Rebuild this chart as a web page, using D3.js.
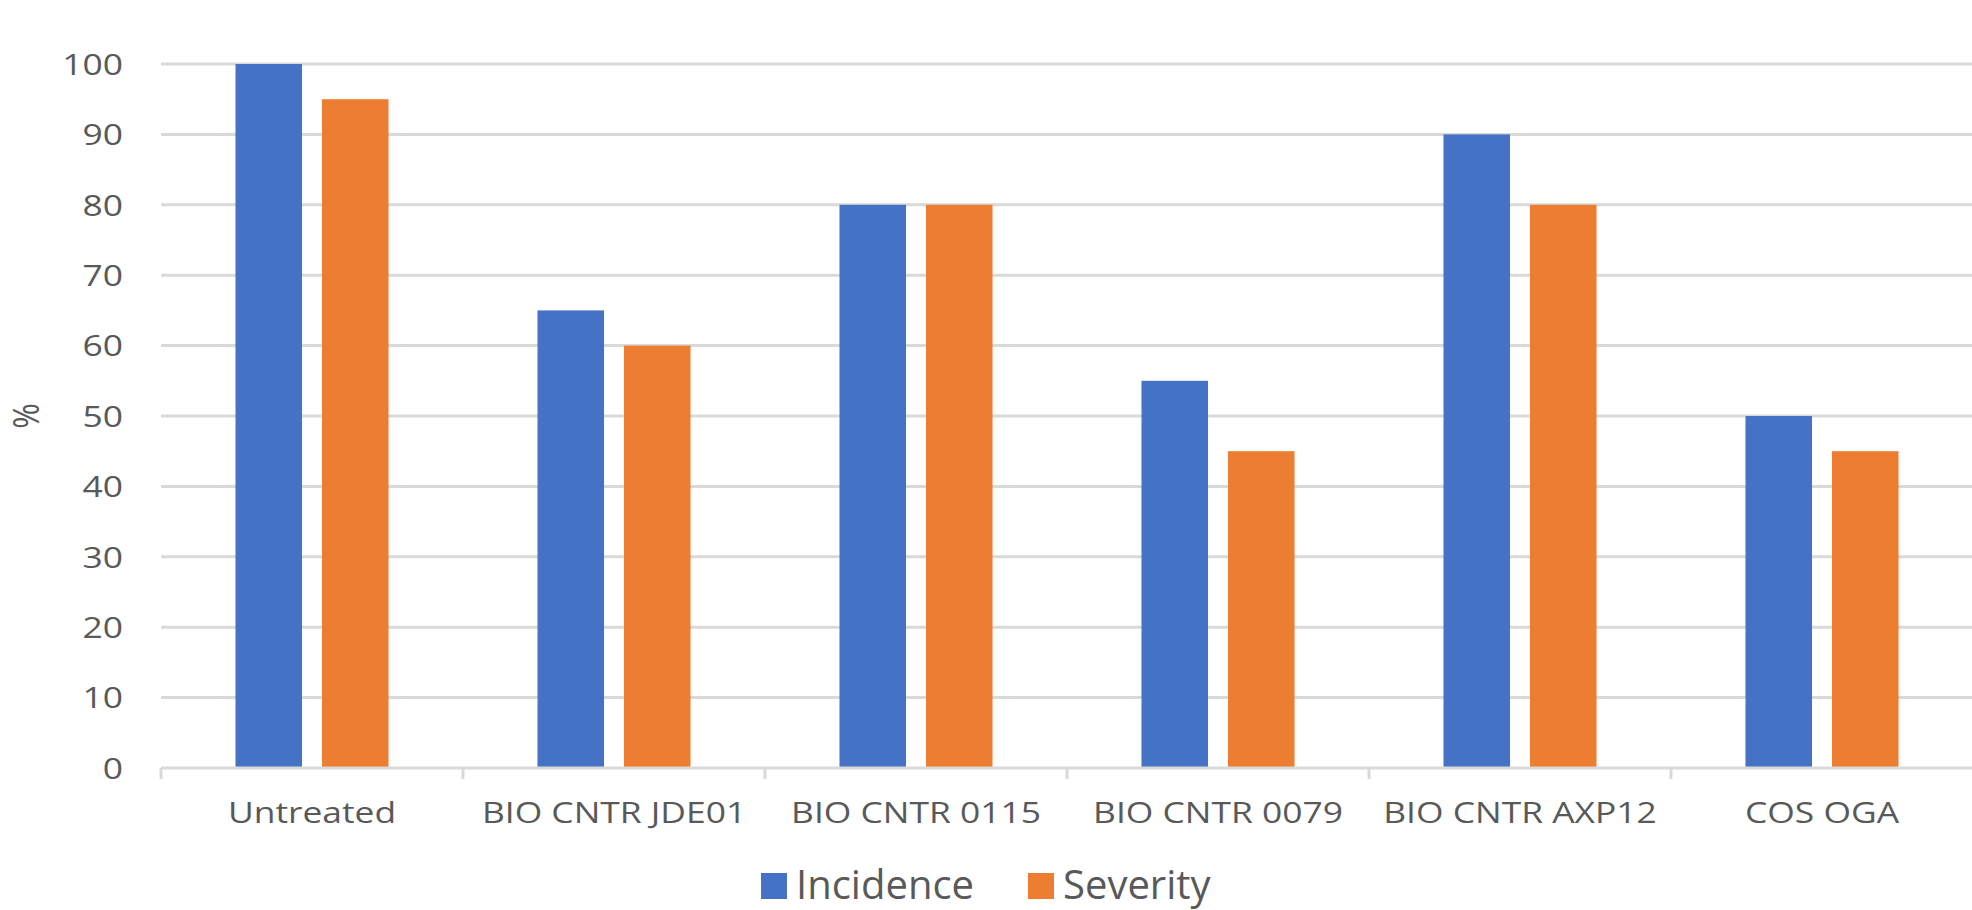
<!DOCTYPE html>
<html>
<head>
<meta charset="utf-8">
<script src="https://cdn.jsdelivr.net/npm/d3@7"></script>
<style>
  html, body { margin: 0; padding: 0; background: #ffffff; overflow: hidden; }
  svg { display: block; }
  text { font-family: "Open Sans", "Noto Sans", sans-serif; fill: #595959; }
</style>
</head>
<body>
<svg id="chart" width="1972" height="910"></svg>
<script>
// Treatments along the x axis
const categories = ["Untreated", "BIO CNTR JDE01", "BIO CNTR 0115", "BIO CNTR 0079", "BIO CNTR AXP12", "COS OGA"];
// Series names and their values (%)
const seriesNames = ["Incidence", "Severity"];
const incidence = [100, 65, 80, 55, 90, 50];
const severity = [95, 60, 80, 45, 80, 45];
// Y-axis tick values
const yTicks = [0, 10, 20, 30, 40, 50, 60, 70, 80, 90, 100];

const colors = { Incidence: "#4472C4", Severity: "#ED7D31" };
const seriesValues = { Incidence: incidence, Severity: severity };

const svg = d3.select("#chart");
const W = 1972, H = 910;
const plot = { left: 161, right: 1973, top: 64, bottom: 768 };
const stretch = 1.18;   // labels are drawn slightly wide

const y = d3.scaleLinear().domain([0, 100]).range([plot.bottom, plot.top]);
const x0 = d3.scaleBand().domain(categories).range([plot.left, plot.right]).padding(0);
const x1 = d3.scaleBand().domain(seriesNames).range([0, x0.bandwidth()])
  .paddingInner(0.231).paddingOuter(0.861);

// Horizontal gridlines
svg.append("g")
  .selectAll("line")
  .data(yTicks.filter(d => d > 0))
  .join("line")
  .attr("x1", plot.left).attr("x2", W)
  .attr("y1", d => y(d)).attr("y2", d => y(d))
  .attr("stroke", "#d9d9d9").attr("stroke-width", 3);

// Bars
const groups = svg.append("g")
  .selectAll("g")
  .data(categories.map((c, i) => ({ c, i })))
  .join("g")
  .attr("transform", d => `translate(${x0(d.c)},0)`);

groups.selectAll("rect")
  .data(d => seriesNames.map(s => ({ s, v: seriesValues[s][d.i] })))
  .join("rect")
  .attr("x", d => x1(d.s))
  .attr("width", x1.bandwidth())
  .attr("y", d => y(d.v))
  .attr("height", d => y(0) - y(d.v))
  .attr("fill", d => colors[d.s]);

// Category axis: baseline plus boundary ticks
const xAxis = svg.append("g");
xAxis.append("line")
  .attr("x1", plot.left).attr("x2", W)
  .attr("y1", y(0)).attr("y2", y(0))
  .attr("stroke", "#d9d9d9").attr("stroke-width", 3);
xAxis.selectAll("line.tick")
  .data(categories)
  .join("line")
  .attr("class", "tick")
  .attr("x1", d => x0(d)).attr("x2", d => x0(d))
  .attr("y1", y(0)).attr("y2", y(0) + 11)
  .attr("stroke", "#d9d9d9").attr("stroke-width", 3);
xAxis.selectAll("text")
  .data(categories)
  .join("text")
  .attr("transform", d => `translate(${x0(d) + x0.bandwidth() / 2},823) scale(${stretch},1)`)
  .attr("text-anchor", "middle")
  .style("font-size", "30px")
  .text(d => d);

// Value axis labels
svg.append("g")
  .selectAll("text")
  .data(yTicks)
  .join("text")
  .attr("transform", d => `translate(123,${y(d)}) scale(${stretch},1)`)
  .attr("text-anchor", "end")
  .attr("dy", "0.36em")
  .style("font-size", "30px")
  .text(d => d);

// Axis title
svg.append("text")
  .attr("transform", `translate(26,${(plot.top + plot.bottom) / 2}) scale(${stretch},1) rotate(-90)`)
  .attr("text-anchor", "middle")
  .attr("dy", "0.36em")
  .style("font-size", "31px")
  .text("%");

// Legend
const legendItems = [
  { s: "Incidence", x: 761 },
  { s: "Severity", x: 1028 }
];
const legend = svg.append("g");
legend.selectAll("rect")
  .data(legendItems)
  .join("rect")
  .attr("x", d => d.x).attr("y", 873)
  .attr("width", 26).attr("height", 26)
  .attr("fill", d => colors[d.s]);
legend.selectAll("text")
  .data(legendItems)
  .join("text")
  .attr("x", d => d.x + 35).attr("y", 899)
  .style("font-size", "40px")
  .text(d => d.s);
</script>
</body>
</html>
